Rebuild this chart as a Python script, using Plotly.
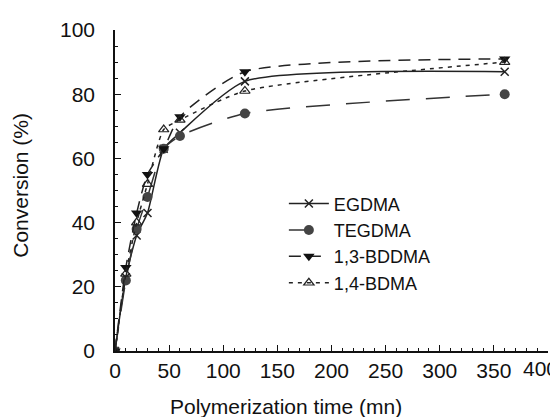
import plotly.graph_objects as go

# Polymerization time (mn)
time = [0, 10, 20, 30, 45, 60, 120, 360]

# Conversion (%) per monomer
egdma = [0, 23, 36, 43, 63, 68, 84, 87]
tegdma = [0, 22, 38, 48, 63, 67, 74, 80]
bddma_13 = [0, 26, 43, 55, 63, 73, 87, 91]
bdma_14 = [0, 24, 40, 52, 69, 72, 81, 90]

font = "Liberation Sans, Arial, sans-serif"

fig = go.Figure()

fig.add_trace(go.Scatter(
    x=time, y=egdma, name="EGDMA", mode="lines+markers",
    line=dict(color="#222", width=1.5, shape="spline", smoothing=0.6),
    marker=dict(symbol="x-thin", size=8, line=dict(color="#222", width=1.5)),
))
fig.add_trace(go.Scatter(
    x=time, y=tegdma, name="TEGDMA", mode="lines+markers",
    line=dict(color="#333", width=1.5, dash="24px,16px", shape="spline", smoothing=0.6),
    marker=dict(symbol="circle", size=10, color="#444"),
))
fig.add_trace(go.Scatter(
    x=time, y=bddma_13, name="1,3-BDDMA", mode="lines+markers",
    line=dict(color="#222", width=1.5, dash="12px,8px", shape="spline", smoothing=0.6),
    marker=dict(symbol="triangle-down", size=10, color="#111"),
))
fig.add_trace(go.Scatter(
    x=time, y=bdma_14, name="1,4-BDMA", mode="lines+markers",
    line=dict(color="#222", width=1.5, dash="4px,5px", shape="spline", smoothing=0.6),
    marker=dict(symbol="triangle-up-open", size=9, color="#222", line=dict(width=1.2)),
))

# page body adds an 8px margin, so the figure is a little smaller than the window
fig.update_layout(
    width=550, height=409,
    margin=dict(l=107, r=10, t=13, b=66),
    paper_bgcolor="white", plot_bgcolor="white",
    font=dict(family=font, size=21, color="#111"),
    showlegend=True,
    legend=dict(
        x=0.39, y=0.516, xanchor="left", yanchor="top",
        bgcolor="rgba(255,255,255,0)", font=dict(size=18),
        tracegroupgap=0, itemwidth=40,
    ),
)

# axis titles placed as annotations to match the original layout
fig.add_annotation(
    text="Polymerization time (mn)", xref="paper", yref="paper",
    x=0.395, y=-0.173, xanchor="center", yanchor="middle",
    showarrow=False, font=dict(size=21),
)
fig.add_annotation(
    text="Conversion (%)", xref="paper", yref="paper",
    x=-0.217, y=0.515, xanchor="center", yanchor="middle",
    textangle=-90, showarrow=False, font=dict(size=21),
)
# last x tick label sits against the right edge
fig.add_annotation(
    text="400", x=400, xref="x", y=0, yref="paper",
    xanchor="center", yanchor="top", xshift=-8, yshift=-4,
    showarrow=False, font=dict(size=21),
)

fig.update_xaxes(
    range=[0, 400], dtick=50, showgrid=False, zeroline=False,
    showline=True, linecolor="#111", linewidth=1.5,
    ticks="inside", ticklen=6, tickcolor="#111",
    minor=dict(dtick=10, ticks="inside", ticklen=3, tickcolor="#111"),
)
fig.update_yaxes(
    range=[0, 100], dtick=20, showgrid=False, zeroline=False,
    showline=True, linecolor="#111", linewidth=1.5,
    ticks="inside", ticklen=6, tickcolor="#111",
    minor=dict(dtick=5, ticks="inside", ticklen=3, tickcolor="#111"),
    ticklabelstandoff=14,
)

fig.write_html("out.html")
